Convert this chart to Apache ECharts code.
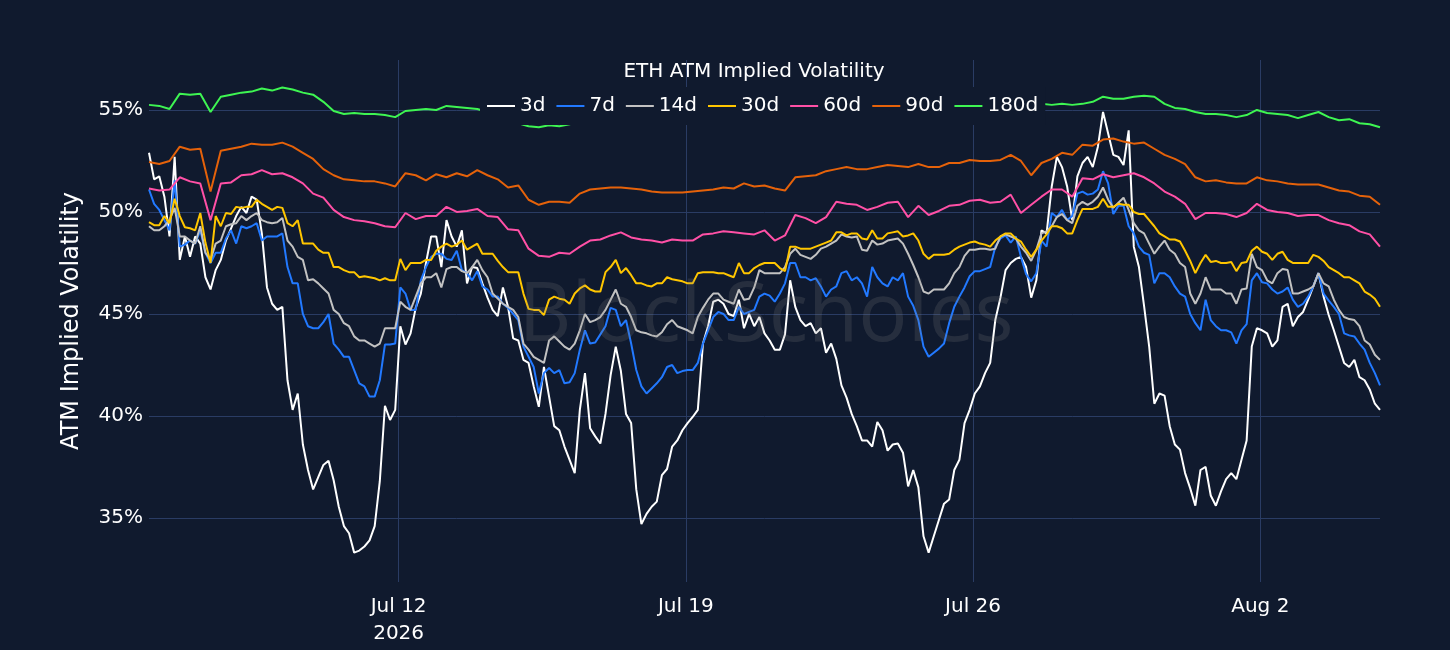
<!DOCTYPE html>
<html>
<head>
<meta charset="utf-8">
<title>ETH ATM Implied Volatility</title>
<script src="https://cdn.jsdelivr.net/npm/echarts@6/dist/echarts.min.js"></script>
<style>
    html, body { margin: 0; padding: 0; background: #101a2e; }
    #chart { width: 1450px; height: 650px; }
</style>
</head>
<body>
<div id="chart"></div>
<script type="text/javascript">
// first sample 2026-07-05 22:00 UTC; short tenors every 3h, long tenors every 6h
var START = Date.UTC(2026, 6, 5, 22);
var HOUR = 3600 * 1000;

var seriesNames = ['3d', '7d', '14d', '30d', '60d', '90d', '180d'];
var seriesColors = ['#ffffff', '#2279ff', '#c2c2c2', '#ffc600', '#ff50a6', '#e5620a', '#3ef552'];

// 3h samples
var iv3d = [
    52.9, 51.6, 51.75, 50.75, 48.8, 52.7, 47.65, 48.8, 47.8, 48.8,
    48.45, 46.8, 46.2, 47.15, 47.65, 48.6, 49.2, 49.8, 50.25, 49.95,
    50.75, 50.6, 48.95, 46.3, 45.5, 45.2, 45.35, 41.75, 40.3, 41.1,
    38.6, 37.35, 36.4, 37.0, 37.6, 37.8, 36.85, 35.55, 34.6, 34.25,
    33.3, 33.4, 33.6, 33.9, 34.6, 36.8, 40.5, 39.8, 40.3, 44.4,
    43.5, 44.05, 45.3, 46.0, 47.5, 48.8, 48.8, 47.3, 49.6, 48.8,
    48.3, 49.1, 46.5, 47.3, 47.25, 46.5, 45.8, 45.2, 44.9, 46.3,
    45.35, 43.8, 43.7, 42.75, 42.6, 41.45, 40.45, 42.4, 40.95, 39.5,
    39.3, 38.5, 37.85, 37.2, 40.3, 42.1, 39.4, 39.0, 38.65, 40.1,
    42.0, 43.4, 42.2, 40.1, 39.65, 36.4, 34.7, 35.2, 35.55, 35.8,
    37.1, 37.4, 38.5, 38.8, 39.3, 39.65, 39.95, 40.3, 43.55, 44.4,
    45.6, 45.7, 45.5, 45.0, 44.9, 45.7, 44.3, 45.0, 44.4, 44.85,
    44.05, 43.7, 43.25, 43.25, 44.0, 46.65, 45.35, 44.7, 44.4, 44.55,
    44.05, 44.3, 43.1, 43.55, 42.8, 41.5, 40.9, 40.1, 39.5, 38.8,
    38.8, 38.5, 39.7, 39.3, 38.3, 38.6, 38.65, 38.2, 36.55, 37.35,
    36.5, 34.1, 33.3, 34.1, 34.9, 35.7, 35.9, 37.35, 37.85, 39.65,
    40.3, 41.1, 41.45, 42.1, 42.6, 44.7, 45.8, 47.15, 47.5, 47.7,
    47.8, 47.3, 45.8, 46.65, 49.1, 48.95, 51.25, 52.7, 52.2, 51.25,
    49.6, 51.75, 52.4, 52.7, 52.2, 53.2, 54.9, 53.85, 52.8, 52.7,
    52.3, 54.0, 48.3, 47.3, 45.4, 43.4, 40.6, 41.1, 41.0, 39.5,
    38.6, 38.35, 37.2, 36.45, 35.6, 37.35, 37.5, 36.1, 35.6, 36.3,
    36.9, 37.2, 36.9, 37.85, 38.8, 43.4, 44.3, 44.2, 44.05, 43.4,
    43.7, 45.35, 45.5, 44.4, 44.85, 45.1, 45.7, 46.35, 47.0, 45.85,
    44.95, 44.2, 43.4, 42.6, 42.4, 42.75, 41.9, 41.75, 41.3, 40.6,
    40.3
];
var iv7d = [
    51.1, 50.4, 50.1, 49.6, 49.1, 51.55, 48.3, 48.4, 48.6, 48.45,
    49.1, 48.0, 47.5, 48.0, 48.0, 48.7, 49.1, 48.45, 49.3, 49.2,
    49.3, 49.45, 48.6, 48.8, 48.8, 48.8, 48.95, 47.3, 46.5, 46.5,
    45.0, 44.4, 44.3, 44.3, 44.6, 45.0, 43.55, 43.25, 42.9, 42.9,
    42.25, 41.6, 41.45, 40.95, 40.95, 41.75, 43.5, 43.5, 43.55, 46.3,
    46.0, 45.2, 45.2, 46.65, 47.3, 47.8, 47.95, 47.95, 47.7, 47.65,
    48.1, 47.15, 47.0, 46.65, 47.1, 46.35, 46.2, 45.85, 45.85, 45.5,
    45.3, 45.0, 44.7, 43.4, 42.9, 42.4, 41.1, 42.1, 42.35, 42.1,
    42.25, 41.6, 41.65, 42.1, 43.25, 44.2, 43.55, 43.6, 44.0, 44.4,
    45.3, 45.2, 44.4, 44.7, 43.55, 42.25, 41.45, 41.1, 41.35, 41.6,
    41.9, 42.4, 42.5, 42.1, 42.2, 42.25, 42.25, 42.6, 43.55, 44.2,
    44.85, 45.1, 45.0, 44.7, 44.7, 45.35, 45.0, 45.1, 45.2, 45.85,
    46.0, 45.9, 45.6, 46.0, 46.5, 47.5, 47.5, 46.8, 46.8, 46.65,
    46.75, 46.35, 45.85, 46.2, 46.35, 47.0, 47.1, 46.65, 46.8, 46.5,
    45.85, 47.3, 46.8, 46.5, 46.35, 46.8, 46.65, 47.0, 45.85, 45.4,
    44.7, 43.4, 42.9, 43.1, 43.3, 43.55, 44.55, 45.35, 45.85, 46.3,
    46.85, 47.1, 47.1, 47.2, 47.3, 48.3, 48.7, 48.85, 48.5, 48.8,
    47.8, 46.95, 46.6, 47.0, 48.6, 48.3, 49.95, 49.75, 50.1, 49.6,
    49.8, 50.9, 51.0, 50.85, 50.9, 51.1, 52.0, 51.4, 49.9, 50.3,
    50.3, 49.3, 48.95, 48.3, 48.0, 47.9, 46.5, 47.0, 47.0, 46.8,
    46.35, 46.0, 45.85, 45.0, 44.55, 44.2, 45.7, 44.7, 44.4, 44.2,
    44.2, 44.1, 43.55, 44.2, 44.5, 46.65, 47.0, 46.55, 46.5, 46.2,
    46.0, 46.1, 46.3, 45.7, 45.35, 45.5, 45.85, 46.35, 47.0, 46.0,
    45.65, 45.35, 45.0, 44.05, 43.95, 43.9, 43.55, 43.25, 42.6, 42.1,
    41.5
];
var iv14d = [
    49.3, 49.1, 49.1, 49.3, 49.6, 50.2, 48.8, 48.8, 48.6, 48.45,
    49.3, 48.0, 47.65, 48.45, 48.6, 49.3, 49.4, 49.45, 49.8, 49.6,
    49.8, 49.95, 49.6, 49.5, 49.45, 49.5, 49.7, 48.6, 48.3, 47.8,
    47.65, 46.65, 46.7, 46.5, 46.25, 46.0, 45.2, 45.0, 44.55, 44.4,
    43.9, 43.7, 43.7, 43.55, 43.4, 43.55, 44.3, 44.3, 44.3, 45.6,
    45.35, 45.2, 45.85, 46.5, 46.8, 46.8, 47.0, 46.3, 47.2, 47.3,
    47.3, 47.1, 47.0, 47.3, 47.65, 47.15, 46.8, 46.0, 45.75, 45.5,
    45.35, 45.2, 44.85, 43.55, 43.25, 42.9, 42.75, 42.6, 43.7, 43.9,
    43.65, 43.4, 43.25, 43.55, 44.2, 45.0, 44.6, 44.7, 44.85, 45.2,
    45.7, 46.2, 45.5, 45.35, 44.85, 44.2, 44.1, 44.05, 43.95, 43.9,
    44.1, 44.5, 44.7, 44.4, 44.3, 44.2, 44.05, 44.85, 45.3, 45.7,
    46.0, 46.0, 45.7, 45.6, 45.5, 46.2, 45.7, 45.75, 46.3, 47.15,
    47.0, 47.0, 47.0, 47.0, 47.3, 47.95, 48.2, 47.9, 47.8, 47.7,
    47.9, 48.2, 48.3, 48.45, 48.6, 48.9, 48.8, 48.75, 48.8, 48.15,
    48.1, 48.6, 48.4, 48.45, 48.6, 48.65, 48.7, 48.45, 47.95, 47.4,
    46.8, 46.1, 46.0, 46.2, 46.2, 46.2, 46.5, 47.0, 47.3, 47.85,
    48.15, 48.15, 48.2, 48.2, 48.15, 48.2, 48.8, 48.9, 48.8, 48.7,
    48.3, 48.0, 47.6, 48.15, 48.95, 49.05, 49.3, 49.75, 49.9, 49.6,
    49.45, 50.3, 50.5, 50.35, 50.5, 50.75, 51.2, 50.6, 50.2, 50.45,
    50.7, 50.1, 49.45, 49.1, 48.95, 48.45, 47.95, 48.3, 48.6, 48.15,
    47.95, 47.5, 47.3, 46.0, 45.5, 46.0, 46.8, 46.2, 46.2, 46.2,
    46.0, 46.0, 45.5, 46.2, 46.25, 47.95, 47.3, 47.15, 46.65, 46.5,
    47.0, 47.2, 47.15, 46.0, 46.0, 46.1, 46.2, 46.35, 47.0, 46.5,
    46.35, 45.7, 45.2, 44.85, 44.75, 44.7, 44.4, 43.7, 43.5, 43.0,
    42.75
];
var iv30d = [
    49.5, 49.35, 49.35, 49.8, 49.45, 50.65, 49.8, 49.25, 49.2, 49.1,
    49.95, 48.5, 47.5, 49.8, 49.3, 49.95, 49.9, 50.25, 50.2, 50.25,
    50.25, 50.6, 50.4, 50.25, 50.1, 50.25, 50.2, 49.45, 49.3, 49.6,
    48.45, 48.45, 48.45, 48.15, 48.0, 48.0, 47.3, 47.3, 47.15, 47.05,
    47.05, 46.8, 46.85, 46.8, 46.75, 46.65, 46.75, 46.65, 46.65, 47.7,
    47.15, 47.5, 47.5, 47.5, 47.65, 47.65, 48.1, 48.3, 48.45, 48.3,
    48.4, 48.6, 48.15, 48.3, 48.45, 47.95, 47.95, 47.95, 47.6, 47.3,
    47.05, 47.05, 47.05, 46.0, 45.25, 45.2, 45.2, 44.95, 45.7, 45.85,
    45.75, 45.7, 45.5, 46.0, 46.25, 46.4, 46.2, 46.1, 46.1, 47.05,
    47.3, 47.65, 47.0, 47.25, 46.9, 46.5, 46.5, 46.4, 46.35, 46.5,
    46.5, 46.8, 46.7, 46.65, 46.6, 46.5, 46.5, 47.0, 47.05, 47.05,
    47.05, 47.0, 47.0, 46.9, 46.8, 47.5, 47.0, 47.0, 47.25, 47.4,
    47.5, 47.5, 47.5, 47.25, 47.1, 48.3, 48.3, 48.2, 48.2, 48.2,
    48.3, 48.4, 48.5, 48.6, 49.0, 49.0, 48.85, 48.95, 48.95, 48.7,
    48.65, 49.1, 48.7, 48.7, 48.95, 49.0, 49.05, 48.8, 48.85, 48.95,
    48.6, 47.95, 47.7, 47.9, 47.9, 47.9, 47.95, 48.15, 48.3, 48.4,
    48.5, 48.55, 48.45, 48.4, 48.3, 48.6, 48.8, 48.95, 48.95, 48.7,
    48.55, 48.15, 47.8, 48.15, 48.6, 48.9, 49.3, 49.3, 49.2, 48.95,
    48.95, 49.6, 50.15, 50.15, 50.15, 50.25, 50.65, 50.25, 50.25, 50.4,
    50.35, 50.35, 50.0, 49.9, 49.9, 49.6, 49.3, 48.95, 48.8, 48.65,
    48.65, 48.55, 48.1, 47.6, 47.0, 47.5, 47.9, 47.55, 47.6, 47.5,
    47.5, 47.55, 47.1, 47.5, 47.55, 48.1, 48.3, 48.05, 47.95, 47.65,
    47.95, 48.05, 47.65, 47.5, 47.5, 47.5, 47.5, 47.9, 47.8, 47.6,
    47.3, 47.15, 47.0, 46.8, 46.8, 46.65, 46.5, 46.1, 45.95, 45.75,
    45.35
];
// 6h samples
var iv60d = [
    51.15, 51.05, 51.1, 51.7, 51.5, 51.4, 49.6, 51.4, 51.45, 51.8,
    51.85, 52.05, 51.85, 51.9, 51.7, 51.4, 50.9, 50.7, 50.1, 49.75,
    49.6, 49.55, 49.45, 49.3, 49.25, 49.95, 49.65, 49.8, 49.8, 50.25,
    50.0, 50.05, 50.15, 49.8, 49.75, 49.15, 49.1, 48.2, 47.85, 47.8,
    48.0, 47.95, 48.3, 48.6, 48.65, 48.85, 49.0, 48.75, 48.65, 48.6,
    48.5, 48.65, 48.6, 48.6, 48.9, 48.95, 49.05, 49.0, 48.95, 48.9,
    49.1, 48.6, 48.85, 49.85, 49.7, 49.45, 49.75, 50.5, 50.4, 50.35,
    50.1, 50.25, 50.45, 50.5, 49.75, 50.3, 49.85, 50.05, 50.3, 50.35,
    50.55, 50.6, 50.45, 50.5, 50.85, 49.95, 50.35, 50.75, 51.1, 51.1,
    50.75, 51.65, 51.6, 51.85, 51.7, 51.8, 51.9, 51.7, 51.4, 51.0,
    50.75, 50.4, 49.65, 49.95, 49.95, 49.9, 49.75, 49.95, 50.4, 50.1,
    50.0, 49.95, 49.8, 49.85, 49.85, 49.6, 49.45, 49.35, 49.05, 48.9,
    48.3
];
var iv90d = [
    52.45, 52.35, 52.5, 53.2, 53.05, 53.1, 51.0, 53.0, 53.1, 53.2,
    53.35, 53.3, 53.3, 53.4, 53.2, 52.9, 52.6, 52.1, 51.8, 51.6,
    51.55, 51.5, 51.5, 51.4, 51.25, 51.9, 51.8, 51.55, 51.85, 51.7,
    51.9, 51.75, 52.05, 51.8, 51.6, 51.2, 51.3, 50.6, 50.35, 50.5,
    50.5, 50.45, 50.9, 51.1, 51.15, 51.2, 51.2, 51.15, 51.1, 51.0,
    50.95, 50.95, 50.95, 51.0, 51.05, 51.1, 51.2, 51.15, 51.4, 51.25,
    51.3, 51.15, 51.05, 51.7, 51.75, 51.8, 52.0, 52.1, 52.2, 52.1,
    52.1, 52.2, 52.3, 52.25, 52.2, 52.35, 52.2, 52.2, 52.4, 52.4,
    52.55, 52.5, 52.5, 52.55, 52.8, 52.5, 51.8, 52.4, 52.6, 52.9,
    52.8, 53.3, 53.25, 53.55, 53.6, 53.45, 53.35, 53.4, 53.1, 52.8,
    52.6, 52.35, 51.7, 51.5, 51.55, 51.45, 51.4, 51.4, 51.7, 51.55,
    51.5, 51.4, 51.35, 51.35, 51.35, 51.2, 51.05, 51.0, 50.8, 50.75,
    50.35
];
var iv180d = [
    55.25, 55.2, 55.05, 55.8, 55.75, 55.8, 54.9, 55.65, 55.75, 55.85,
    55.9, 56.05, 55.95, 56.1, 56.0, 55.85, 55.75, 55.4, 54.95, 54.8,
    54.85, 54.8, 54.8, 54.75, 54.65, 54.95, 55.0, 55.05, 55.0, 55.2,
    55.15, 55.1, 55.05, 54.9, 54.7, 54.5, 54.35, 54.2, 54.15, 54.25,
    54.2, 54.3, 54.45, 54.5, 54.55, 54.6, 54.5, 54.6, 54.7, 54.65,
    54.7, 54.75, 54.7, 54.8, 54.75, 54.8, 54.9, 54.85, 54.8, 54.9,
    54.95, 54.9, 55.0, 54.95, 55.0, 55.05, 55.0, 55.1, 55.05, 55.1,
    55.15, 55.1, 55.2, 55.15, 55.2, 55.25, 55.2, 55.3, 55.25, 55.3,
    55.35, 55.3, 55.35, 55.3, 55.35, 55.3, 55.35, 55.3, 55.25, 55.3,
    55.25, 55.3, 55.4, 55.65, 55.55, 55.55, 55.65, 55.7, 55.65, 55.3,
    55.1, 55.05, 54.9, 54.8, 54.8, 54.75, 54.65, 54.75, 55.0, 54.85,
    54.8, 54.75, 54.6, 54.75, 54.9, 54.65, 54.5, 54.55, 54.35, 54.3,
    54.15
];

var yTicks = [35, 40, 45, 50, 55];
var xTickDates = [Date.UTC(2026, 6, 12), Date.UTC(2026, 6, 19), Date.UTC(2026, 6, 26), Date.UTC(2026, 7, 2)];
var xTickLabels = ['Jul 12\n2026', 'Jul 19', 'Jul 26', 'Aug 2'];

var allValues = [iv3d, iv7d, iv14d, iv30d, iv60d, iv90d, iv180d];
var stepHours = [3, 3, 3, 3, 6, 6, 6];
var END = START + (iv60d.length - 1) * 6 * HOUR;

var FONT = '"DejaVu Sans", Verdana, sans-serif';
var GRID_COLOR = '#2a3c64';

var chart = echarts.init(document.getElementById('chart'), null, { renderer: 'canvas' });

var series = seriesNames.map(function (name, k) {
    var step = stepHours[k] * HOUR;
    return {
        name: name,
        type: 'line',
        symbol: 'none',
        showSymbol: false,
        lineStyle: { width: 2, color: seriesColors[k] },
        itemStyle: { color: seriesColors[k] },
        data: allValues[k].map(function (v, i) { return [START + i * step, v]; })
    };
});

var option = {
    backgroundColor: '#101a2e',
    animation: false,
    textStyle: { fontFamily: FONT },
    grid: { left: 149, right: 70, top: 60, bottom: 68 },
    legend: {
        data: seriesNames,
        left: 480,
        top: 87,
        padding: [8, 7],
        backgroundColor: '#101a2e',
        icon: 'rect',
        itemWidth: 28,
        itemHeight: 2,
        itemGap: 11,
        selectedMode: false,
        textStyle: { color: '#ffffff', fontSize: 20, lineHeight: 22, fontFamily: FONT }
    },
    graphic: [
        {
            type: 'text', x: 754, y: 72, silent: true,
            style: { text: 'ETH ATM Implied Volatility', fill: '#ffffff', font: '20px ' + FONT, align: 'center', verticalAlign: 'middle' }
        },
        {
            // watermark sits above the lines
            type: 'text', x: 766, y: 318, z: 100, silent: true,
            style: { text: 'BlockScholes', fill: 'rgba(128,128,128,0.2)', font: '82px "Open Sans", sans-serif', align: 'center', verticalAlign: 'middle' }
        }
    ],
    xAxis: {
        type: 'value',
        min: START,
        max: END,
        axisLine: { show: false },
        axisTick: { show: false, customValues: xTickDates },
        splitLine: { show: true, lineStyle: { color: GRID_COLOR, width: 1 } },
        axisLabel: {
            customValues: xTickDates,
            color: '#ffffff',
            fontSize: 20,
            lineHeight: 27,
            margin: 11,
            fontFamily: FONT,
            formatter: function (v) {
                var idx = xTickDates.indexOf(v);
                return idx >= 0 ? xTickLabels[idx] : '';
            }
        }
    },
    yAxis: {
        type: 'value',
        min: 31.86,
        max: 57.45,
        name: 'ATM Implied Volatility',
        nameLocation: 'middle',
        nameGap: 65,
        nameTextStyle: { color: '#ffffff', fontSize: 24, fontFamily: FONT },
        axisLine: { show: false },
        axisTick: { show: false, customValues: yTicks },
        splitLine: { show: true, lineStyle: { color: GRID_COLOR, width: 1 } },
        axisLabel: {
            customValues: yTicks,
            color: '#ffffff',
            fontSize: 20,
            margin: 6,
            fontFamily: FONT,
            formatter: function (v) { return v + '%'; }
        }
    },
    series: series
};

chart.setOption(option);
window.onresize = function () {
    chart.resize();
};
</script>
</body>
</html>
